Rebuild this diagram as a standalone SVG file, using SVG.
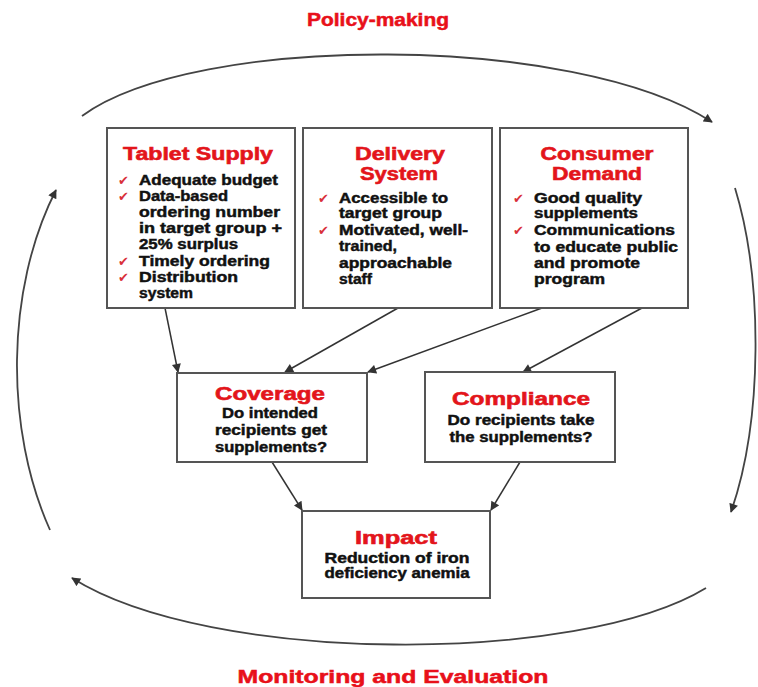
<svg xmlns="http://www.w3.org/2000/svg" width="758" height="687" viewBox="0 0 758 687">
<style>
.box{fill:#fff;stroke:#555;stroke-width:2}
.ttl{font-family:"Liberation Sans",Arial,sans-serif;font-weight:bold;font-size:18px;fill:#e3151b;stroke:#e3151b;stroke-width:0.6}
.big{font-family:"Liberation Sans",Arial,sans-serif;font-weight:bold;font-size:18px;fill:#e8101a;stroke:#e8101a;stroke-width:0.5}
.txt{font-family:"Liberation Sans",Arial,sans-serif;font-weight:bold;font-size:14px;fill:#111;stroke:#111;stroke-width:0.45}
.chk{font-family:"DejaVu Sans",sans-serif;font-size:13px;fill:#d9303a}
.ln{fill:none;stroke:#333;stroke-width:1.5}
.arc{fill:none;stroke:#444;stroke-width:1.8}
</style>
<defs>
<marker id="ah" viewBox="0 0 10 10" refX="9" refY="5" markerWidth="10" markerHeight="9" markerUnits="userSpaceOnUse" orient="auto">
<path d="M0,0 L10,5 L0,10 z" fill="#333"/>
</marker>
</defs>
<rect width="758" height="687" fill="#fff"/>

<g id="cycle">
<path class="arc" d="M82,116 C195,33 575,33 712,122" marker-end="url(#ah)"/>
<path class="arc" d="M735,188 C763,280 763,420 731,512" marker-end="url(#ah)"/>
<path class="arc" d="M706,588 C580,665 210,665 72,578" marker-end="url(#ah)"/>
<path class="arc" d="M50,530 C5,430 5,290 56,190" marker-end="url(#ah)"/>
<text class="big" x="378" y="26" text-anchor="middle" textLength="142" lengthAdjust="spacingAndGlyphs">Policy-making</text>
<text class="big" x="393" y="683" text-anchor="middle" textLength="311" lengthAdjust="spacingAndGlyphs">Monitoring and Evaluation</text>
</g>

<g id="connectors">
<path class="ln" d="M165,308 L178,372" marker-end="url(#ah)"/>
<path class="ln" d="M398,308 L285,372" marker-end="url(#ah)"/>
<path class="ln" d="M542,308 L368,372" marker-end="url(#ah)"/>
<path class="ln" d="M642,308 L523,372" marker-end="url(#ah)"/>
<path class="ln" d="M272,462 L302,510" marker-end="url(#ah)"/>
<path class="ln" d="M520,462 L491,510" marker-end="url(#ah)"/>
</g>

<g id="tablet-supply">
<rect class="box" x="107" y="128" width="188" height="180"/>
<text class="ttl" x="198" y="160" text-anchor="middle" textLength="150" lengthAdjust="spacingAndGlyphs">Tablet  Supply</text>
<text class="chk" x="118" y="185">✔</text>
<text class="chk" x="118" y="201">✔</text>
<text class="chk" x="118" y="266">✔</text>
<text class="chk" x="118" y="282">✔</text>
<text class="txt" x="139" y="185" textLength="139" lengthAdjust="spacingAndGlyphs">Adequate budget</text>
<text class="txt" x="139" y="201" textLength="89" lengthAdjust="spacingAndGlyphs">Data-based</text>
<text class="txt" x="139" y="217" textLength="141" lengthAdjust="spacingAndGlyphs">ordering number</text>
<text class="txt" x="139" y="233" textLength="143" lengthAdjust="spacingAndGlyphs">in target group +</text>
<text class="txt" x="139" y="249" textLength="99" lengthAdjust="spacingAndGlyphs">25% surplus</text>
<text class="txt" x="139" y="266" textLength="131" lengthAdjust="spacingAndGlyphs">Timely ordering</text>
<text class="txt" x="139" y="282" textLength="99" lengthAdjust="spacingAndGlyphs">Distribution</text>
<text class="txt" x="139" y="298" textLength="54" lengthAdjust="spacingAndGlyphs">system</text>
</g>

<g id="delivery-system">
<rect class="box" x="303" y="128" width="189" height="180"/>
<text class="ttl" x="400" y="160" text-anchor="middle" textLength="90" lengthAdjust="spacingAndGlyphs">Delivery</text>
<text class="ttl" x="399" y="180" text-anchor="middle" textLength="78" lengthAdjust="spacingAndGlyphs">System</text>
<text class="chk" x="318" y="203">✔</text>
<text class="chk" x="318" y="235">✔</text>
<text class="txt" x="339" y="203" textLength="109" lengthAdjust="spacingAndGlyphs">Accessible to</text>
<text class="txt" x="339" y="218" textLength="103" lengthAdjust="spacingAndGlyphs">target group</text>
<text class="txt" x="339" y="235" textLength="129" lengthAdjust="spacingAndGlyphs">Motivated, well-</text>
<text class="txt" x="339" y="251" textLength="58" lengthAdjust="spacingAndGlyphs">trained,</text>
<text class="txt" x="339" y="268" textLength="113" lengthAdjust="spacingAndGlyphs">approachable</text>
<text class="txt" x="339" y="284" textLength="33" lengthAdjust="spacingAndGlyphs">staff</text>
</g>

<g id="consumer-demand">
<rect class="box" x="500" y="128" width="188" height="180"/>
<text class="ttl" x="597" y="160" text-anchor="middle" textLength="113" lengthAdjust="spacingAndGlyphs">Consumer</text>
<text class="ttl" x="597" y="180" text-anchor="middle" textLength="90" lengthAdjust="spacingAndGlyphs">Demand</text>
<text class="chk" x="513" y="203">✔</text>
<text class="chk" x="513" y="235">✔</text>
<text class="txt" x="534" y="203" textLength="108" lengthAdjust="spacingAndGlyphs">Good quality</text>
<text class="txt" x="534" y="218" textLength="104" lengthAdjust="spacingAndGlyphs">supplements</text>
<text class="txt" x="534" y="235" textLength="141" lengthAdjust="spacingAndGlyphs">Communications</text>
<text class="txt" x="534" y="252" textLength="144" lengthAdjust="spacingAndGlyphs">to educate public</text>
<text class="txt" x="534" y="268" textLength="106" lengthAdjust="spacingAndGlyphs">and promote</text>
<text class="txt" x="534" y="284" textLength="71" lengthAdjust="spacingAndGlyphs">program</text>
</g>

<g id="coverage">
<rect class="box" x="177" y="373" width="190" height="89"/>
<text class="ttl" x="270" y="400" text-anchor="middle" textLength="110" lengthAdjust="spacingAndGlyphs">Coverage</text>
<text class="txt" x="270" y="418" text-anchor="middle" textLength="96" lengthAdjust="spacingAndGlyphs">Do intended</text>
<text class="txt" x="271" y="435" text-anchor="middle" textLength="112" lengthAdjust="spacingAndGlyphs">recipients get</text>
<text class="txt" x="271" y="452" text-anchor="middle" textLength="112" lengthAdjust="spacingAndGlyphs">supplements?</text>
</g>

<g id="compliance">
<rect class="box" x="425" y="372" width="190" height="90"/>
<text class="ttl" x="521" y="405" text-anchor="middle" textLength="138" lengthAdjust="spacingAndGlyphs">Compliance</text>
<text class="txt" x="521" y="425" text-anchor="middle" textLength="147" lengthAdjust="spacingAndGlyphs">Do recipients take</text>
<text class="txt" x="521" y="442" text-anchor="middle" textLength="143" lengthAdjust="spacingAndGlyphs">the supplements?</text>
</g>

<g id="impact">
<rect class="box" x="302" y="511" width="188" height="87"/>
<text class="ttl" x="396" y="544" text-anchor="middle" textLength="82" lengthAdjust="spacingAndGlyphs">Impact</text>
<text class="txt" x="397" y="563" text-anchor="middle" textLength="145" lengthAdjust="spacingAndGlyphs">Reduction of iron</text>
<text class="txt" x="397" y="578" text-anchor="middle" textLength="145" lengthAdjust="spacingAndGlyphs">deficiency anemia</text>
</g>
</svg>
